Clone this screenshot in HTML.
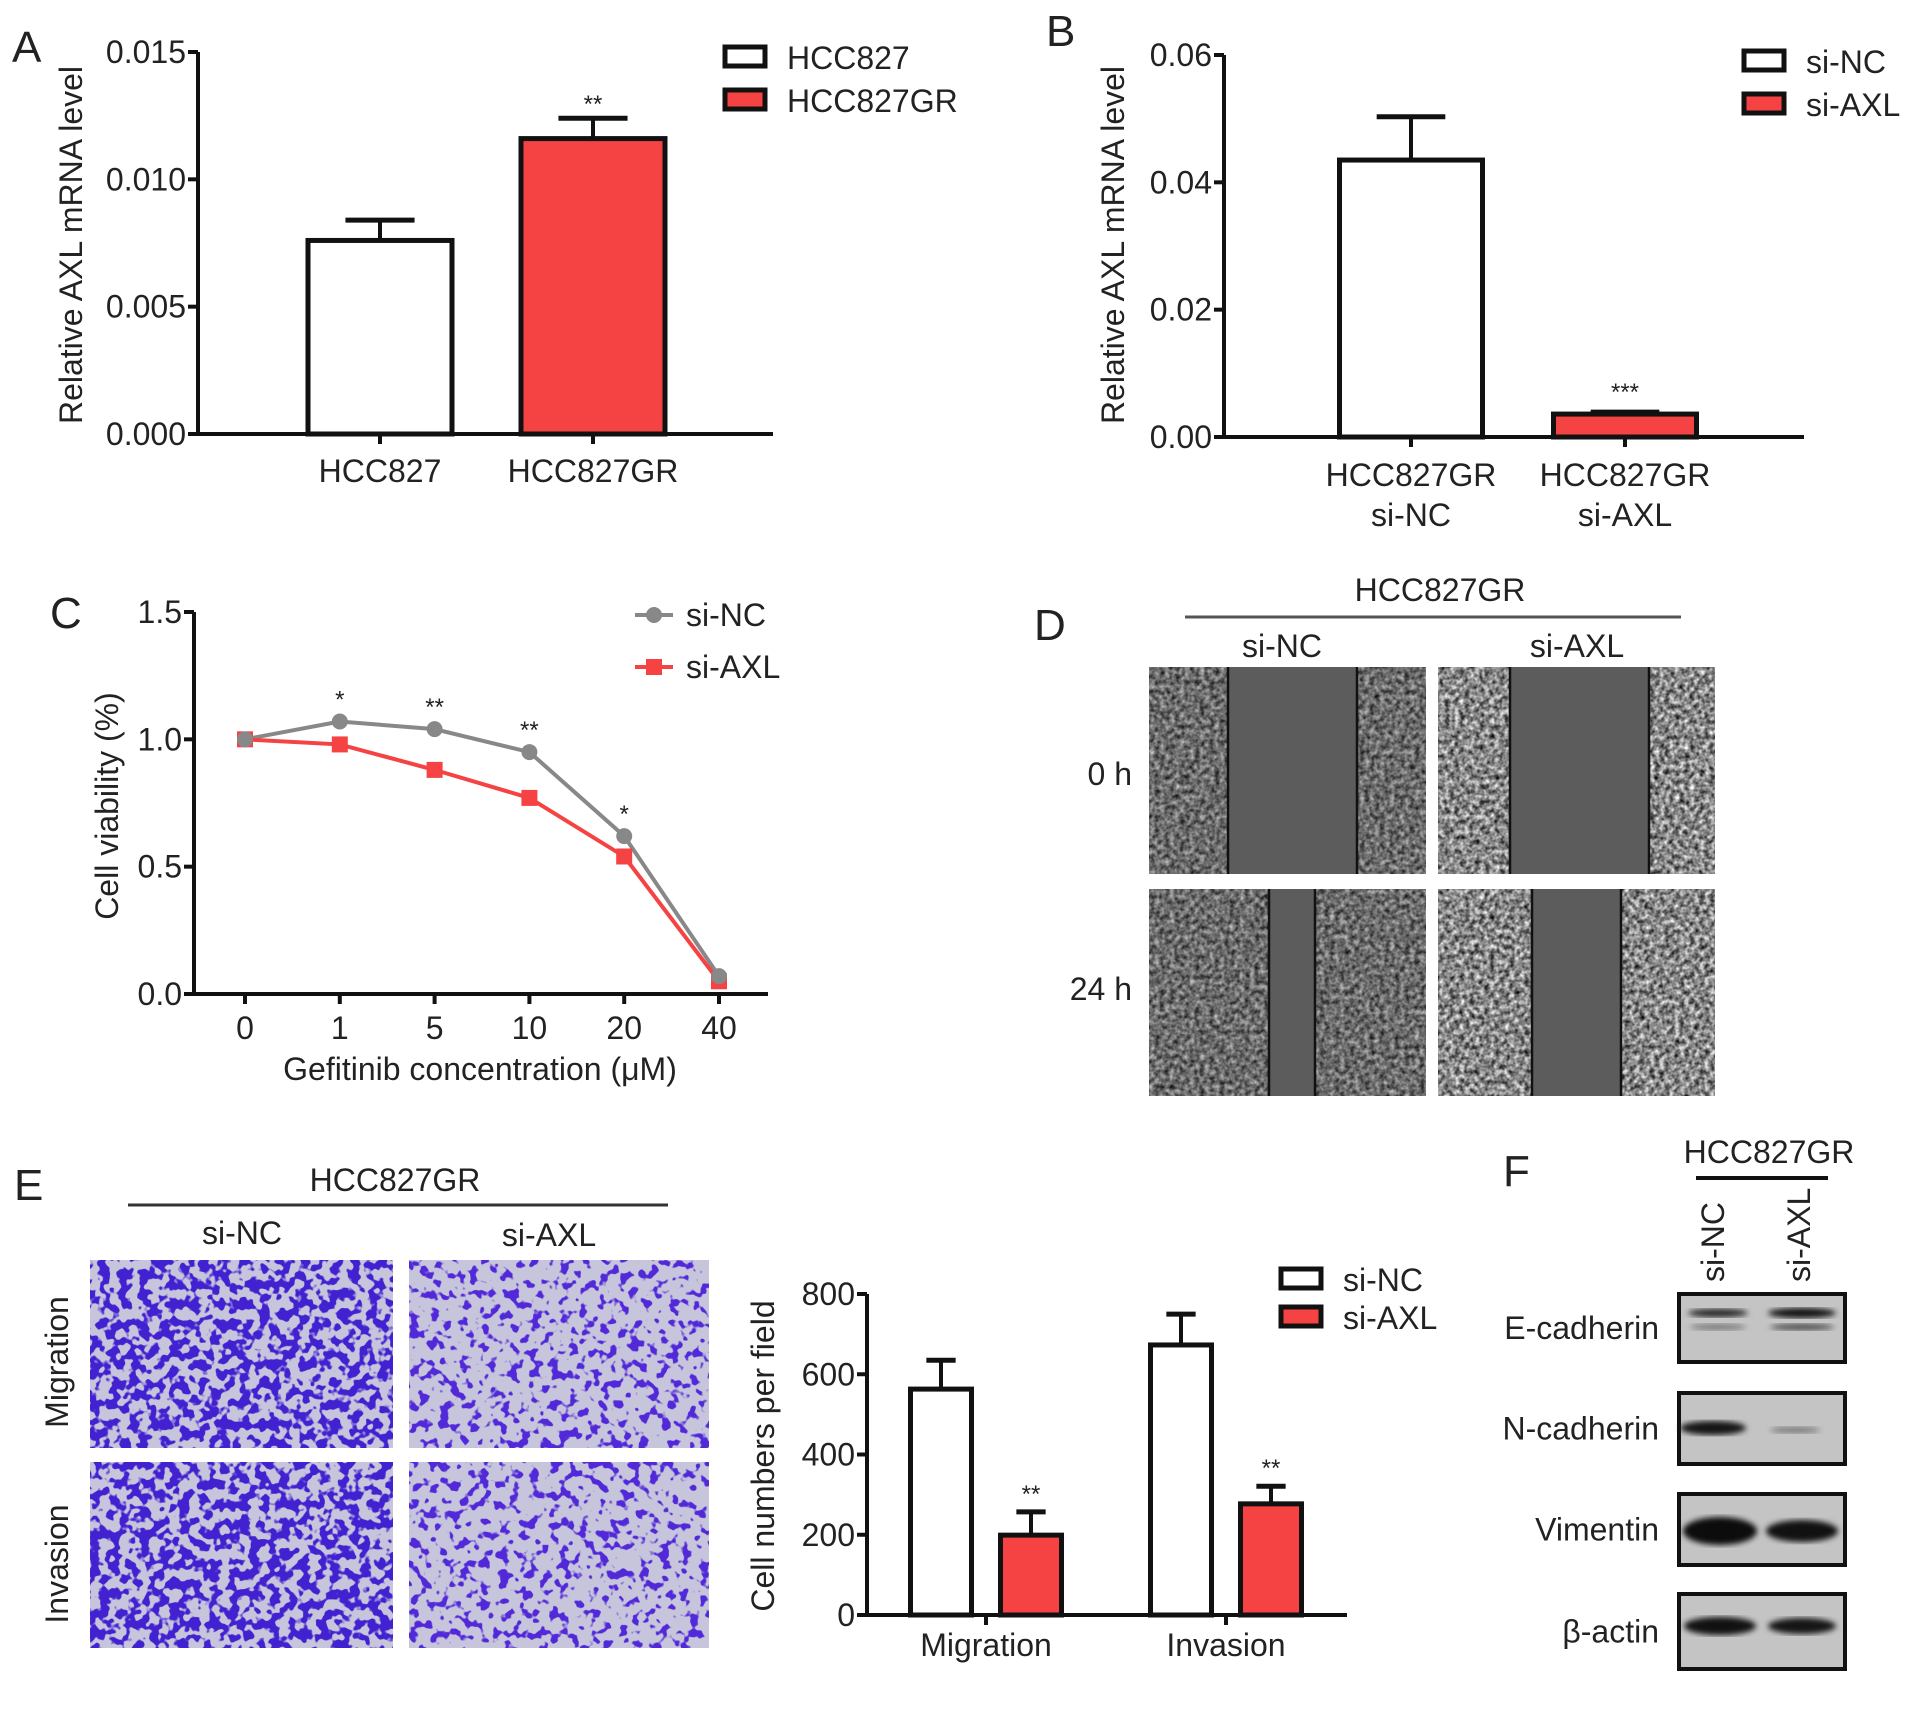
<!DOCTYPE html>
<html><head><meta charset="utf-8"><style>
body{margin:0;background:#fff}
svg{display:block}
text{font-family:"Liberation Sans",Arial,sans-serif;fill:#222}
.t{font-size:32px}
.lbl{font-size:44px}
filter{color-interpolation-filters:sRGB}
</style></head><body>
<svg id="fig" width="1913" height="1712" viewBox="0 0 1913 1712" xmlns="http://www.w3.org/2000/svg">
<defs>
<filter id="cells" x="0" y="0" width="1" height="1" color-interpolation-filters="sRGB"><feTurbulence type="fractalNoise" baseFrequency="0.2" numOctaves="2" seed="4"/><feColorMatrix type="matrix" values="0.9 0 0 0 -0.03  0.9 0 0 0 -0.03  0.9 0 0 0 -0.03  0 0 0 0 1"/></filter>
<filter id="cellsB" x="0" y="0" width="1" height="1" color-interpolation-filters="sRGB"><feTurbulence type="fractalNoise" baseFrequency="0.2" numOctaves="2" seed="9"/><feColorMatrix type="matrix" values="1.3 0 0 0 -0.12  1.3 0 0 0 -0.12  1.3 0 0 0 -0.12  0 0 0 0 1"/></filter>
<filter id="violet" x="0" y="0" width="1" height="1" color-interpolation-filters="sRGB"><feTurbulence type="fractalNoise" baseFrequency="0.1" numOctaves="2" seed="2"/><feColorMatrix type="matrix" values="0 0 0 0 0.26  0 0 0 0 0.13  0 0 0 0 0.82  14 0 0 0 -6.6"/></filter>
<filter id="violet2" x="0" y="0" width="1" height="1" color-interpolation-filters="sRGB"><feTurbulence type="fractalNoise" baseFrequency="0.1" numOctaves="2" seed="7"/><feColorMatrix type="matrix" values="0 0 0 0 0.32  0 0 0 0 0.16  0 0 0 0 0.85  14 0 0 0 -7.7"/></filter>
<filter id="blur"><feGaussianBlur stdDeviation="3"/></filter>
</defs>
<g id="root"></g>
</svg>
<script>
// ---------- data ----------
const aCats = ['HCC827','HCC827GR'];
const aVals = [0.0076, 0.0116];
const aErr = [0.0008, 0.0008];
const aTicks = [0, 0.005, 0.010, 0.015];
const aTickLabels = ['0.000','0.005','0.010','0.015'];

const bCats = [['HCC827GR','si-NC'],['HCC827GR','si-AXL']];
const bVals = [0.0435, 0.0036];
const bErr = [0.0068, 0.0003];
const bTicks = [0, 0.02, 0.04, 0.06];
const bTickLabels = ['0.00','0.02','0.04','0.06'];

const cCats = ['0','1','5','10','20','40'];
const cNC = [1.0, 1.07, 1.04, 0.95, 0.62, 0.07];
const cAXL = [1.0, 0.98, 0.88, 0.77, 0.54, 0.05];
const cStars = ['', '*', '**', '**', '*', ''];
const cTicks = [0, 0.5, 1.0, 1.5];
const cTickLabels = ['0.0','0.5','1.0','1.5'];

const eCats = ['Migration','Invasion'];
const eNC = [563, 673];
const eNCerr = [72, 77];
const eAXL = [199, 277];
const eAXLerr = [58, 44];
const eTicks = [0, 200, 400, 600, 800];

const RED = '#f54242';
const root = document.getElementById('root');
const NS = 'http://www.w3.org/2000/svg';
function el(tag, attrs, parent, txt){
  const e = document.createElementNS(NS, tag);
  for (const k in attrs) e.setAttribute(k, attrs[k]);
  if (txt !== undefined) e.textContent = txt;
  (parent || root).appendChild(e);
  return e;
}
function lin(d0, d1, r0, r1){ return v => r0 + (v - d0) / (d1 - d0) * (r1 - r0); }

function yAxis(g, x, y, ticks, labels){
  const ax = el('line', {x1:x, y1:y(ticks[ticks.length-1]), x2:x, y2:y(ticks[0]), stroke:'#111','stroke-width':4}, g);
  
  
  ticks.forEach((t, i) => {
    el('line', {x1:x-10, y1:y(t), x2:x, y2:y(t), stroke:'#111','stroke-width':4}, g);
    const tl = el('text', {x:x-12, y:y(t)+11, 'text-anchor':'end', class:'t'}, g, labels[i]);
    
    
  });
}
function label(txt, x, y, name){
  const t = el('text', {x:x, y:y, class:'lbl'}, root, txt);
  
  
}
function vtitle(txt, x, y, name){
  const t = el('text', {x:x, y:y, 'text-anchor':'middle', class:'t', transform:`rotate(-90 ${x} ${y})`}, root, txt);
  
  
}
function bar(g, x0, x1, y, v, err, fill, name){
  const top = y(v), base = y(0), cx = (x0+x1)/2, cw = (x1-x0)*0.24;
  const et = y(v+err);
  el('line', {x1:cx, y1:top, x2:cx, y2:et, stroke:'#111','stroke-width':4}, g);
  el('line', {x1:cx-cw, y1:et, x2:cx+cw, y2:et, stroke:'#111','stroke-width':5}, g);
  const r = el('rect', {x:x0, y:top, width:x1-x0, height:base-top, fill:fill, stroke:'#111','stroke-width':5}, g);
  
  
}
function legendBox(g, x, y, fill, txt, name){
  const r = el('rect', {x:x, y:y, width:40, height:19, fill:fill, stroke:'#111','stroke-width':5}, g);
  
  
  el('text', {x:x+62, y:y+22, class:'t'}, g, txt);
}

// ---------- Panel A ----------
(function(){
  const g = el('g', {});  
  label('A', 12, 62, 'panel-a-label');
  const y = lin(0, 0.015, 434, 52);
  const centers = [380, 593], bw = 144;
  aCats.forEach((c, i) => {
    bar(g, centers[i]-bw/2, centers[i]+bw/2, y, aVals[i], aErr[i], i ? RED : '#fff', 'bar-' + c.toLowerCase());
    el('line', {x1:centers[i], y1:434, x2:centers[i], y2:444, stroke:'#111','stroke-width':4}, g);
    el('text', {x:centers[i], y:482, 'text-anchor':'middle', class:'t'}, g, c);
  });
  el('text', {x:centers[1], y:112, 'text-anchor':'middle', 'font-size':24}, g, '**');
  el('line', {x1:196, y1:434, x2:773, y2:434, stroke:'#111','stroke-width':4}, g);
  yAxis(g, 198, y, aTicks, aTickLabels);
  vtitle('Relative AXL mRNA level', 82, 245, 'y-axis-title-a');
  legendBox(g, 725, 47, '#fff', 'HCC827', 'legend-hcc827');
  legendBox(g, 725, 90, RED, 'HCC827GR', 'legend-hcc827gr');
})();

// ---------- Panel B ----------
(function(){
  const g = el('g', {});  
  label('B', 1046, 46, 'panel-b-label');
  const y = lin(0, 0.06, 437, 55);
  const centers = [1411, 1625], bw = 143;
  bCats.forEach((c, i) => {
    bar(g, centers[i]-bw/2, centers[i]+bw/2, y, bVals[i], bErr[i], i ? RED : '#fff', 'bar-' + c[1].toLowerCase());
    el('line', {x1:centers[i], y1:437, x2:centers[i], y2:447, stroke:'#111','stroke-width':4}, g);
    el('text', {x:centers[i], y:486, 'text-anchor':'middle', class:'t'}, g, c[0]);
    el('text', {x:centers[i], y:526, 'text-anchor':'middle', class:'t'}, g, c[1]);
  });
  el('text', {x:centers[1], y:400, 'text-anchor':'middle', 'font-size':24}, g, '***');
  el('line', {x1:1222, y1:437, x2:1804, y2:437, stroke:'#111','stroke-width':4}, g);
  yAxis(g, 1224, y, bTicks, bTickLabels);
  vtitle('Relative AXL mRNA level', 1124, 245, 'y-axis-title-b');
  legendBox(g, 1744, 51, '#fff', 'si-NC', 'legend-si-nc-b');
  legendBox(g, 1744, 94, RED, 'si-AXL', 'legend-si-axl-b');
})();

// ---------- Panel C ----------
(function(){
  const g = el('g', {});  
  label('C', 50, 628, 'panel-c-label');
  const y = lin(0, 1.5, 994, 612);
  const x = i => 245 + i * 94.8;
  yAxis(g, 194, y, cTicks, cTickLabels);
  el('line', {x1:192, y1:994, x2:768, y2:994, stroke:'#111','stroke-width':4}, g);
  cCats.forEach((c, i) => {
    el('line', {x1:x(i), y1:994, x2:x(i), y2:1004, stroke:'#111','stroke-width':4}, g);
    el('text', {x:x(i), y:1039, 'text-anchor':'middle', class:'t'}, g, c);
  });
  const t = el('text', {x:480, y:1080, 'text-anchor':'middle', class:'t'}, g, 'Gefitinib concentration (\u03bcM)');
   
  vtitle('Cell viability (%)', 118, 806, 'y-axis-title-c');
  const lNC = el('polyline', {points: cNC.map((v,i)=>x(i)+','+y(v)).join(' '), fill:'none', stroke:'#888','stroke-width':4}, g);
   
  const lA = el('polyline', {points: cAXL.map((v,i)=>x(i)+','+y(v)).join(' '), fill:'none', stroke:RED,'stroke-width':4}, g);
   
  cAXL.forEach((v, i) => {
    const s = el('rect', {x:x(i)-8, y:y(v)-8, width:16, height:16, fill:RED}, g);
     
  });
  cNC.forEach((v, i) => {
    const p = el('circle', {cx:x(i), cy:y(v), r:8, fill:'#888'}, g);
     
    if (cStars[i]) el('text', {x:x(i), y:y(v)-14, 'text-anchor':'middle', 'font-size':24}, g, cStars[i]);
  });
  el('line', {x1:635, y1:615, x2:673, y2:615, stroke:'#888','stroke-width':4}, g);
  el('circle', {cx:654, cy:615, r:8, fill:'#888'}, g);
  el('text', {x:686, y:626, class:'t'}, g, 'si-NC');
  el('line', {x1:635, y1:667, x2:673, y2:667, stroke:RED,'stroke-width':4}, g);
  el('rect', {x:646, y:659, width:16, height:16, fill:RED}, g);
  el('text', {x:686, y:678, class:'t'}, g, 'si-AXL');
})();

// ---------- Panel D ----------
(function(){
  const g = el('g', {});  
  label('D', 1034, 640, 'panel-d-label');
  el('text', {x:1440, y:601, 'text-anchor':'middle', class:'t'}, g, 'HCC827GR');
  el('line', {x1:1185, y1:617, x2:1681, y2:617, stroke:'#555','stroke-width':3}, g);
  el('text', {x:1282, y:657, 'text-anchor':'middle', class:'t'}, g, 'si-NC');
  el('text', {x:1577, y:657, 'text-anchor':'middle', class:'t'}, g, 'si-AXL');
  el('text', {x:1132, y:785, 'text-anchor':'end', class:'t'}, g, '0 h');
  el('text', {x:1132, y:1000, 'text-anchor':'end', class:'t'}, g, '24 h');
  const imgs = [
    [1149,667,277,207,1228,1357,'cells','wound-si-nc-0h'],
    [1438,667,277,207,1510,1649,'cellsB','wound-si-axl-0h'],
    [1149,889,277,207,1269,1315,'cells','wound-si-nc-24h'],
    [1438,889,277,207,1532,1621,'cellsB','wound-si-axl-24h']];
  imgs.forEach(m => {
    const r = el('rect', {x:m[0], y:m[1], width:m[2], height:m[3], fill:'#777', filter:`url(#${m[6]})`}, g);
     
    el('rect', {x:m[4], y:m[1], width:m[5]-m[4], height:m[3], fill:'#5c5c5c'}, g);
    el('line', {x1:m[4], y1:m[1], x2:m[4], y2:m[1]+m[3], stroke:'#111','stroke-width':2.5}, g);
    el('line', {x1:m[5], y1:m[1], x2:m[5], y2:m[1]+m[3], stroke:'#111','stroke-width':2.5}, g);
  });
})();

// ---------- Panel E (images) ----------
(function(){
  const g = el('g', {});  
  label('E', 14, 1200, 'panel-e-label');
  el('text', {x:395, y:1191, 'text-anchor':'middle', class:'t'}, g, 'HCC827GR');
  el('line', {x1:128, y1:1205, x2:668, y2:1205, stroke:'#333','stroke-width':3}, g);
  el('text', {x:242, y:1244, 'text-anchor':'middle', class:'t'}, g, 'si-NC');
  el('text', {x:549, y:1246, 'text-anchor':'middle', class:'t'}, g, 'si-AXL');
  vtitle('Migration', 68, 1362, 'row-label-migration');
  vtitle('Invasion', 68, 1564, 'row-label-invasion');
  const imgs = [[90,1260,303,188,'violet','migration-si-nc'],[409,1260,300,188,'violet2','migration-si-axl'],
                [90,1462,303,186,'violet','invasion-si-nc'],[409,1462,300,186,'violet2','invasion-si-axl']];
  imgs.forEach(m => {
    el('rect', {x:m[0], y:m[1], width:m[2], height:m[3], fill:'#c6c5dc'}, g);
    const r = el('rect', {x:m[0], y:m[1], width:m[2], height:m[3], fill:'#000', filter:`url(#${m[4]})`}, g);
     
  });
})();

// ---------- Panel E (chart) ----------
(function(){
  const g = el('g', {});  
  const y = lin(0, 800, 1615, 1294);
  yAxis(g, 867, y, eTicks, eTicks.map(String));
  el('line', {x1:865, y1:1615, x2:1347, y2:1615, stroke:'#111','stroke-width':4}, g);
  vtitle('Cell numbers per field', 774, 1456, 'y-axis-title-e');
  const gc = [986, 1226], bw = 61, off = 45;
  eCats.forEach((c, i) => {
    bar(g, gc[i]-off-bw/2, gc[i]-off+bw/2, y, eNC[i], eNCerr[i], '#fff', 'bar-' + c.toLowerCase() + '-si-nc');
    bar(g, gc[i]+off-bw/2, gc[i]+off+bw/2, y, eAXL[i], eAXLerr[i], RED, 'bar-' + c.toLowerCase() + '-si-axl');
    el('text', {x:gc[i]+off, y:y(eAXL[i]+eAXLerr[i])-10, 'text-anchor':'middle', 'font-size':24}, g, '**');
    el('line', {x1:gc[i], y1:1615, x2:gc[i], y2:1625, stroke:'#111','stroke-width':4}, g);
    el('text', {x:gc[i], y:1656, 'text-anchor':'middle', class:'t'}, g, c);
  });
  legendBox(g, 1281, 1269, '#fff', 'si-NC', 'legend-si-nc-e');
  legendBox(g, 1281, 1307, RED, 'si-AXL', 'legend-si-axl-e');
})();

// ---------- Panel F ----------
(function(){
  const g = el('g', {});  
  label('F', 1503, 1186, 'panel-f-label');
  el('text', {x:1769, y:1163, 'text-anchor':'middle', class:'t'}, g, 'HCC827GR');
  el('line', {x1:1696, y1:1178, x2:1828, y2:1178, stroke:'#111','stroke-width':4}, g);
  el('text', {x:1724, y:1282, class:'t', transform:'rotate(-90 1724 1282)'}, g, 'si-NC');
  el('text', {x:1810, y:1282, class:'t', transform:'rotate(-90 1810 1282)'}, g, 'si-AXL');
  const rows = [['E-cadherin',1294,1362],['N-cadherin',1393,1464],['Vimentin',1494,1565],['\u03b2-actin',1594,1669]];
  rows.forEach((r, i) => {
    el('text', {x:1659, y:(r[1]+r[2])/2+11, 'text-anchor':'end', class:'t'}, g, r[0]);
    const box = el('rect', {x:1679, y:r[1], width:166, height:r[2]-r[1], fill:'#c4c4c4', stroke:'#111','stroke-width':4}, g);
    
    
  });
  const bands = [
    [1718,1313,30,4,'#222'],[1802,1313,34,5,'#111'],[1718,1327,28,3,'#777'],[1802,1327,32,3,'#444'],
    [1713,1428,33,7,'#151515'],[1795,1430,25,3,'#777'],
    [1720,1531,37,14,'#0c0c0c'],[1802,1531,36,11,'#111'],
    [1720,1626,36,9,'#111'],[1802,1626,34,8,'#151515']];
  bands.forEach(b => el('ellipse', {cx:b[0], cy:b[1], rx:b[2], ry:b[3], fill:b[4], filter:'url(#blur)'}, g));
})();
</script>
</body></html>
